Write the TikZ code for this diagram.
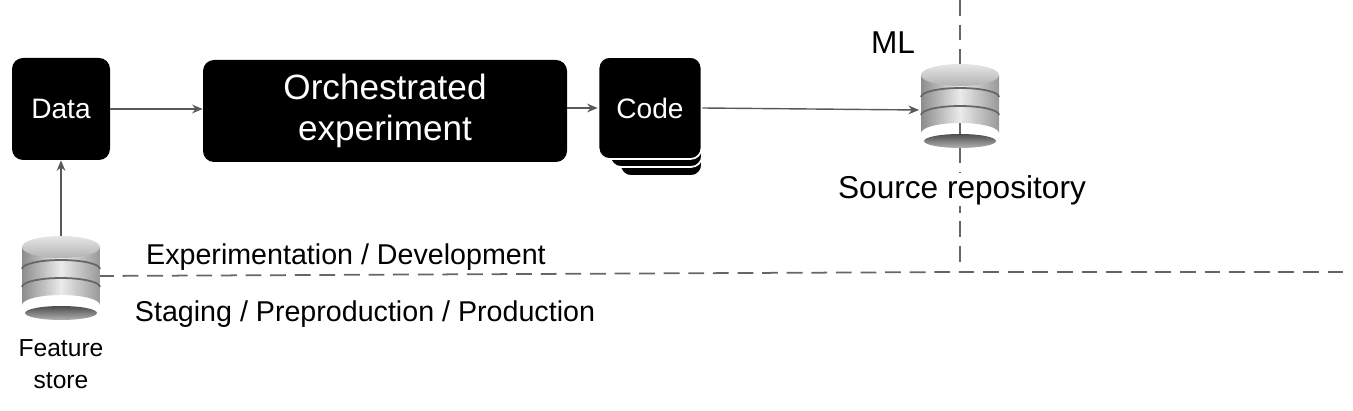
\documentclass[tikz,border=0pt]{standalone}
\usepackage{fontspec}
\setmainfont{Liberation Sans}
\usetikzlibrary{arrows.meta}
\begin{document}
\begin{tikzpicture}[x=0.02cm,y=-0.02cm,
  blk/.style={fill=black,rounded corners=0.22cm,text=white,align=center,inner sep=0},
  arr/.style={draw=black!65,line width=0.8pt,-{Stealth[length=6pt,width=5pt]}},
  dashln/.style={draw=black!60,line width=1pt,dash pattern=on 9pt off 5pt},
  lbl/.style={font=\fontsize{16.3}{19}\selectfont,anchor=center},
  pics/db/.style={code={
    \shade[top color=black!70,bottom color=black!30] (0,38) ellipse (36 and 7);
    \shade[left color=black!45,right color=black!40,middle color=black!8] (-39,-28) -- (-39,30) arc[start angle=180,end angle=360,x radius=39,y radius=10] -- (39,-28) -- cycle;
    \draw[black!60,line width=1pt] (-39,-6) arc[start angle=180,end angle=360,x radius=39,y radius=9];
    \draw[black!60,line width=1pt] (-39,12) arc[start angle=180,end angle=360,x radius=39,y radius=9];
    \shade[top color=black!10,bottom color=black!30] (0,-28) ellipse (39 and 11);
  }}]
\useasboundingbox (0,0) rectangle (1353,411);
\draw[dashln] (960,0) -- (960,272) -- (1350,272);
\draw[dashln] (98,276) -- (960,272);
\node[blk,minimum width=98*0.02cm,minimum height=102*0.02cm,font=\fontsize{16}{18}\selectfont] (data) at (61,109) {Data};
\node[blk,minimum width=364*0.02cm,minimum height=102*0.02cm,font=\fontsize{20}{23}\selectfont] (orch) at (385,111) {Orchestrated\\experiment};
\node[blk,draw=white,line width=1pt,minimum width=82*0.02cm,minimum height=100*0.02cm] (c3) at (661,126) {};
\node[blk,draw=white,line width=1pt,minimum width=92*0.02cm,minimum height=100*0.02cm] (c2) at (656,117) {};
\node[blk,draw=white,line width=1pt,minimum width=103*0.02cm,minimum height=102*0.02cm,font=\fontsize{16}{18}\selectfont] (code) at (650,108) {Code};
\pic at (960,103) {db};
\coordinate (src) at (919,110);
\pic at (61,275) {db};
\coordinate (fs) at (61,236);
\draw[arr] (data) -- (orch.west|-data);
\draw[arr] (orch.east|-code) -- (code);
\draw[arr] (code.east) -- (src);
\draw[arr] (fs) -- (data.south);
\node[lbl,font=\fontsize{18}{20}\selectfont] (ml) at (893,43) {ML};
\node[lbl,fill=white,inner sep=1pt,font=\fontsize{18}{20}\selectfont] (sr) at (962,190) {Source repository};
\node[lbl] (exp) at (346,257) {Experimentation / Development};
\node[lbl] (stg) at (365,314) {Staging / Preproduction / Production};
\node[align=center,font=\fontsize{14}{18}\selectfont] (fsl) at (61,364) {Feature\\store};
\end{tikzpicture}
\end{document}
